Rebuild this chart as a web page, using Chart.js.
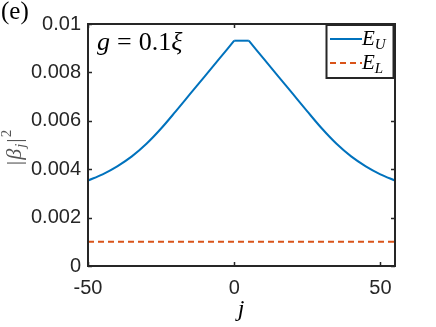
<!DOCTYPE html>
<html>
<head>
<meta charset="utf-8">
<script src="https://cdn.jsdelivr.net/npm/chart.js@4"></script>
<style>
body{margin:0;background:#fff;}
</style>
</head>
<body>
<canvas id="chart" width="436" height="327"></canvas>
<script>
// j values and |beta_j|^2
const jVals=[-50,-45,-40,-35,-30,-25,-20,-15,-10,-5,0,5,10,15,20,25,30,35,40,45,50,55];
const euVals=[0.00353,0.00379,0.00412,0.00453,0.00505,0.00568,0.00639,0.00712,0.00785,0.00858,0.00931,
              0.00931,0.00858,0.00785,0.00712,0.00639,0.00568,0.00505,0.00453,0.00412,0.00379,0.00353];
const elJ=[-50,55];
const elVals=[0.001,0.001];

const xTicks=[-50,0,50];
const yTicks=[0,0.002,0.004,0.006,0.008,0.01];
const yTickLabels=["0","0.002","0.004","0.006","0.008","0.01"];

const blue="#0072BD";
const red="#D95319";
const axisCol="#262626";

const serif='"Liberation Serif"';
const sans='"Liberation Sans"';

const pts=jVals.map((j,i)=>({x:j,y:euVals[i]}));
// the curve has sharp corners at the plateau ends, so smooth each branch separately
const branches=[pts.slice(0,11),pts.slice(10,12),pts.slice(11)];

// frame, inward ticks, math labels and legend
const decor={
    id:"decor",
    afterDraw(chart){
        const ctx=chart.ctx;
        const a=chart.chartArea;
        const xs=chart.scales.x, ys=chart.scales.y;
        ctx.save();
        ctx.strokeStyle=axisCol;
        ctx.lineWidth=2;
        ctx.strokeRect(a.left,a.top,a.right-a.left,a.bottom-a.top);

        ctx.lineWidth=1.5;
        ctx.beginPath();
        xTicks.forEach(v=>{
            const px=Math.round(xs.getPixelForValue(v))+0.5;
            ctx.moveTo(px,a.bottom);ctx.lineTo(px,a.bottom-4);
            ctx.moveTo(px,a.top);ctx.lineTo(px,a.top+4);
        });
        yTicks.forEach(v=>{
            const py=Math.round(ys.getPixelForValue(v))+0.5;
            ctx.moveTo(a.left,py);ctx.lineTo(a.left+4,py);
            ctx.moveTo(a.right,py);ctx.lineTo(a.right-4,py);
        });
        ctx.stroke();

        ctx.fillStyle="#000";
        ctx.textBaseline="alphabetic";
        ctx.textAlign="left";

        // panel tag
        ctx.font="25px "+serif;
        ctx.fillText("(e)",1,19);

        // g = 0.1 xi
        let x=97;
        const base=50;
        ctx.font="italic 26px "+serif;
        ctx.fillText("g",x,base);x+=ctx.measureText("g").width+7;
        ctx.font="26px "+serif;
        ctx.fillText("=",x,base);x+=ctx.measureText("=").width+7;
        ctx.fillText("0.1",x,base);x+=ctx.measureText("0.1").width;
        ctx.font="italic 26px "+serif;
        ctx.fillText("ξ",x,base);

        // x title
        ctx.font="italic 24px "+serif;
        ctx.textAlign="center";
        ctx.fillText("j",241,316);

        // y title |beta_j|^2 rotated
        ctx.save();
        ctx.translate(21,147);
        ctx.rotate(-Math.PI/2);
        ctx.fillStyle="#555";
        ctx.textAlign="left";
        const parts=[
            {t:"|",f:"22px "+serif,dy:0},
            {t:"β",f:"italic 22px "+serif,dy:0},
            {t:"j",f:"italic 15px "+serif,dy:4},
            {t:"|",f:"22px "+serif,dy:0},
            {t:"2",f:"15px "+serif,dy:-10}
        ];
        let w=0;
        parts.forEach(p=>{ctx.font=p.f;w+=ctx.measureText(p.t).width+1;});
        let cx=-w/2;
        parts.forEach(p=>{ctx.font=p.f;ctx.fillText(p.t,cx,p.dy);cx+=ctx.measureText(p.t).width+1;});
        ctx.restore();

        // legend
        const lx=326.5, ly=25, lw=67, lh=53;
        ctx.fillStyle="#fff";
        ctx.fillRect(lx,ly,lw,lh);
        ctx.strokeStyle=axisCol;
        ctx.lineWidth=2;
        ctx.strokeRect(lx,ly,lw,lh);

        ctx.lineWidth=2;
        ctx.strokeStyle=blue;
        ctx.beginPath();ctx.moveTo(330,39);ctx.lineTo(362,39);ctx.stroke();
        ctx.strokeStyle=red;
        ctx.setLineDash([6,4]);
        ctx.beginPath();ctx.moveTo(330,63);ctx.lineTo(362,63);ctx.stroke();
        ctx.setLineDash([]);

        ctx.fillStyle="#000";
        ctx.textAlign="left";
        [["U",45],["L",69]].forEach(([s,yb])=>{
            ctx.font="italic 21px "+serif;
            ctx.fillText("E",362,yb);
            const ew=ctx.measureText("E").width;
            ctx.font="italic 15px "+serif;
            ctx.fillText(s,362+ew,yb+4);
        });
        ctx.restore();
    }
};

const euSets=branches.map(b=>({
    data:b,
    borderColor:blue,
    borderWidth:2,
    pointRadius:0,
    cubicInterpolationMode:"monotone",
    fill:false
}));

new Chart(document.getElementById("chart"),{
    type:"line",
    data:{
        datasets:[...euSets,{
            label:"E_L",
            data:elJ.map((j,i)=>({x:j,y:elVals[i]})),
            borderColor:red,
            borderWidth:2,
            borderDash:[6,4],
            pointRadius:0,
            fill:false
        }]
    },
    options:{
        responsive:false,
        animation:false,
        layout:{padding:{left:0,top:24,right:41,bottom:0}},
        plugins:{legend:{display:false},tooltip:{enabled:false}},
        scales:{
            x:{
                type:"linear",
                min:-50,max:55,
                afterBuildTicks:s=>{s.ticks=xTicks.map(v=>({value:v}));},
                afterFit:s=>{s.height=61;},
                grid:{display:false,drawTicks:false},
                border:{display:false},
                ticks:{
                    color:axisCol,
                    font:{family:sans,size:20},
                    padding:10,
                    maxRotation:0,
                    callback:v=>String(v)
                }
            },
            y:{
                min:0,max:0.01,
                afterBuildTicks:s=>{s.ticks=yTicks.map(v=>({value:v}));},
                afterFit:s=>{s.width=88;},
                grid:{display:false,drawTicks:false},
                border:{display:false},
                ticks:{
                    color:axisCol,
                    font:{family:sans,size:20},
                    padding:7,
                    callback:(v,i)=>yTickLabels[i]
                }
            }
        }
    },
    plugins:[decor]
});
</script>
</body>
</html>
